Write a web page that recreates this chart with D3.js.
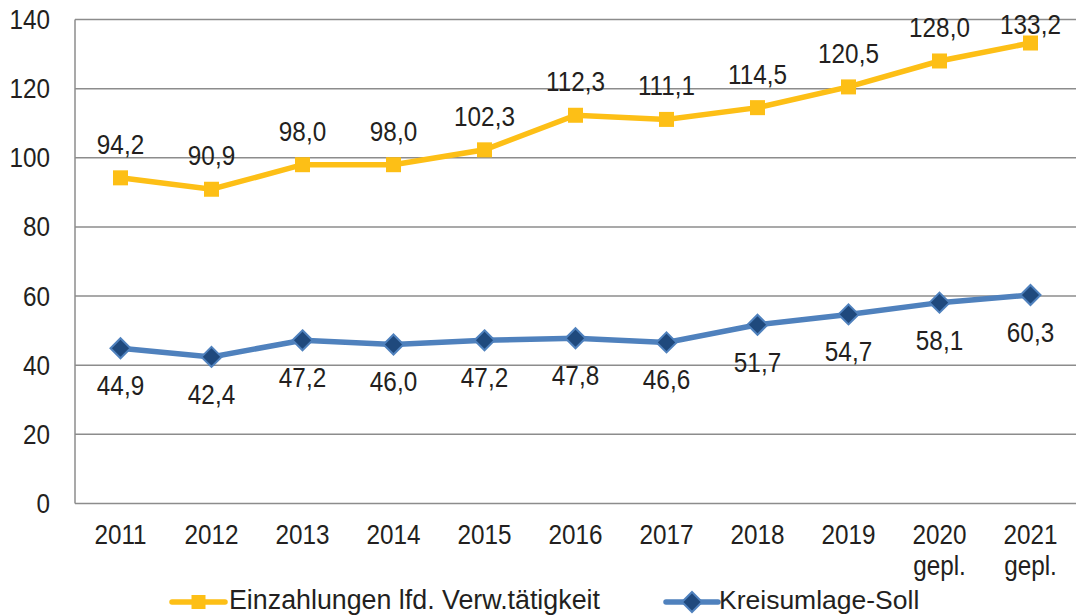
<!DOCTYPE html>
<html><head><meta charset="utf-8">
<script src="https://cdn.jsdelivr.net/npm/d3@7"></script>
<style>body{margin:0;background:#fff}svg{display:block}text{font-family:"Liberation Sans",Arial,sans-serif;fill:#231f20}</style>
</head><body><svg id="c" width="1077" height="615"></svg>
<script>
const categories = ["2011","2012","2013","2014","2015","2016","2017","2018","2019","2020\ngepl.","2021\ngepl."];
const einzahlungen = [94.2,90.9,98.0,98.0,102.3,112.3,111.1,114.5,120.5,128.0,133.2];
const kreisumlage = [44.9,42.4,47.2,46.0,47.2,47.8,46.6,51.7,54.7,58.1,60.3];
const yTicks = [0,20,40,60,80,100,120,140];
const seriesNames = ["Einzahlungen lfd. Verw.tätigkeit","Kreisumlage-Soll"];

const svg = d3.select("#c");
const L=75,R=1076,T=19.5,B=503.5;
const FS=27, SX=0.9;
const x = d3.scaleBand().domain(categories).range([L,R]);
const y = d3.scaleLinear().domain([0,140]).range([B,T]);
const fmt = v => v.toFixed(1).replace(".",",");
const cx = c => x(c)+x.bandwidth()/2;
const tr = (px,py) => `translate(${px},${py}) scale(${SX},1)`;

// gridlines
svg.append("g").selectAll("line").data(yTicks).join("line")
  .attr("x1",L).attr("x2",R).attr("y1",d=>y(d)).attr("y2",d=>y(d))
  .attr("stroke","#8c8c8c").attr("stroke-width",1.5);
// left axis
svg.append("line").attr("x1",L).attr("x2",L).attr("y1",T).attr("y2",B).attr("stroke","#8c8c8c").attr("stroke-width",1.5);
// y labels
svg.append("g").selectAll("text").data(yTicks).join("text")
  .attr("transform",d=>tr(50,y(d)+9.5)).attr("text-anchor","end").attr("font-size",FS).text(d=>d);
// x labels
const xl = svg.append("g").selectAll("text").data(categories).join("text")
  .attr("transform",d=>tr(cx(d),544)).attr("text-anchor","middle").attr("font-size",FS);
xl.each(function(d){
  const parts=d.split("\n");
  d3.select(this).selectAll("tspan").data(parts).join("tspan")
    .attr("x",0).attr("dy",(p,i)=>i?31:0).text(p=>p);
});

const line = d3.line().x((d,i)=>cx(categories[i])).y(d=>y(d));
// yellow series
svg.append("path").datum(einzahlungen).attr("d",line).attr("fill","none")
  .attr("stroke","#FDBF16").attr("stroke-width",5.5);
svg.append("g").selectAll("rect").data(einzahlungen).join("rect")
  .attr("x",(d,i)=>cx(categories[i])-7.5).attr("y",d=>y(d)-7.5).attr("width",15).attr("height",15)
  .attr("fill","#FDBF16");
svg.append("g").selectAll("text").data(einzahlungen).join("text")
  .attr("transform",(d,i)=>tr(cx(categories[i]),Math.max(y(d)-24,T+14)))
  .attr("text-anchor","middle").attr("font-size",FS).text(fmt);
// blue series
svg.append("path").datum(kreisumlage).attr("d",line).attr("fill","none")
  .attr("stroke","#4F81BD").attr("stroke-width",5.5);
const diamond = (px,py,r)=>`M${px},${py-r}L${px+r},${py}L${px},${py+r}L${px-r},${py}Z`;
svg.append("g").selectAll("path").data(kreisumlage).join("path")
  .attr("d",(d,i)=>diamond(cx(categories[i]),y(d),10))
  .attr("fill","#1F497D").attr("stroke","#4F81BD").attr("stroke-width",2);
svg.append("g").selectAll("text").data(kreisumlage).join("text")
  .attr("transform",(d,i)=>tr(cx(categories[i]),y(d)+47))
  .attr("text-anchor","middle").attr("font-size",FS).text(fmt);

// legend
const lg = svg.append("g");
lg.append("line").attr("x1",172).attr("x2",225).attr("y1",602).attr("y2",602).attr("stroke","#FDBF16").attr("stroke-width",5.5).attr("stroke-linecap","round");
lg.append("rect").attr("x",191.5).attr("y",595).attr("width",14).attr("height",14).attr("fill","#FDBF16");
lg.append("text").attr("x",229).attr("y",609).attr("font-size",26.8).text(seriesNames[0]);
lg.append("line").attr("x1",666).attr("x2",718).attr("y1",602).attr("y2",602).attr("stroke","#4F81BD").attr("stroke-width",5.5).attr("stroke-linecap","round");
lg.append("path").attr("d",diamond(692,602,10)).attr("fill","#1F497D").attr("stroke","#4F81BD").attr("stroke-width",2);
lg.append("text").attr("x",719).attr("y",609).attr("font-size",26.5).text(seriesNames[1]);
</script></body></html>
